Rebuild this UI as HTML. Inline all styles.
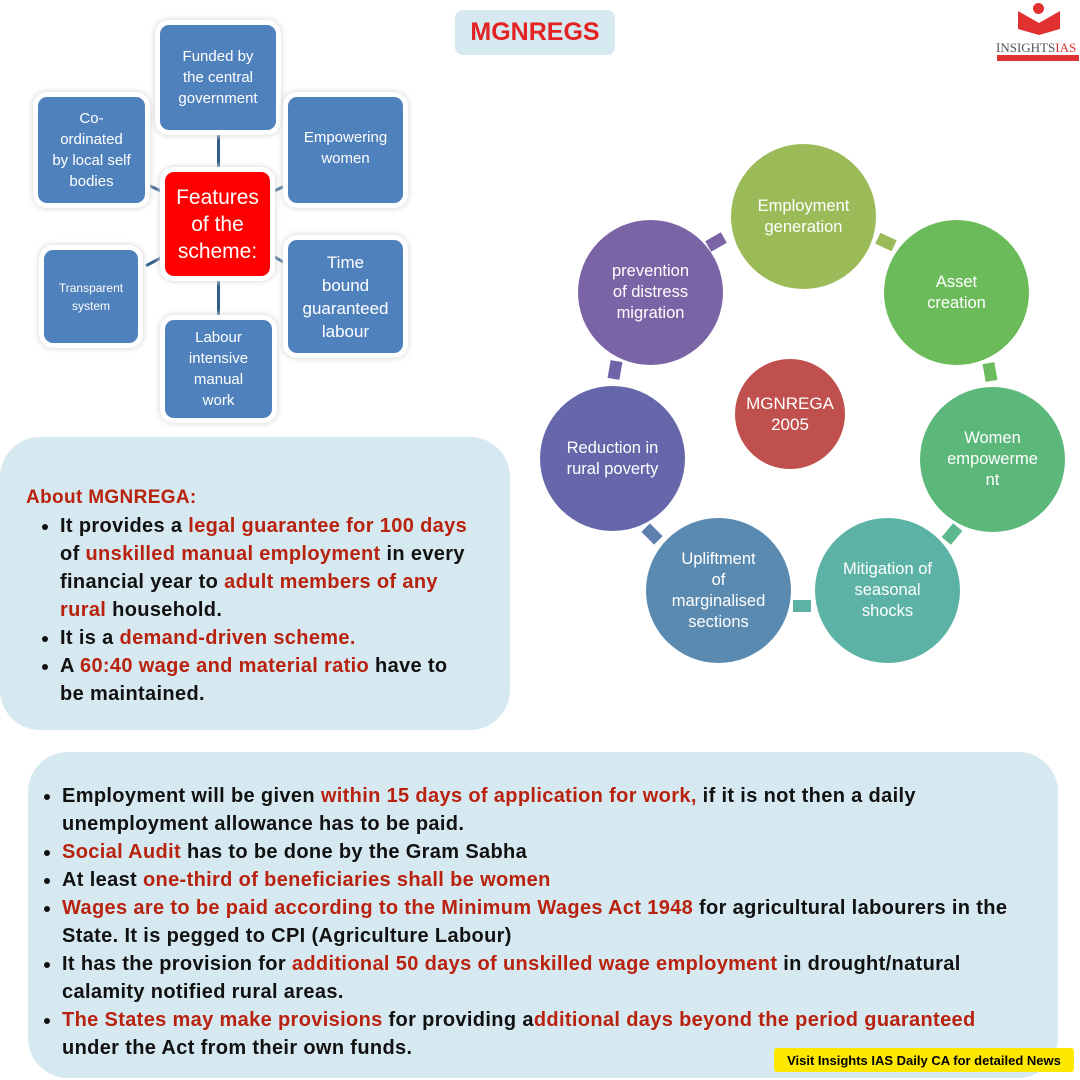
<!DOCTYPE html><html><head><style>
body{margin:0;width:1080px;height:1080px;background:#fff;position:relative;overflow:hidden;font-family:"Liberation Sans",sans-serif}
.b{position:absolute;background:#4f81bd;color:#fff;border-radius:9px;box-shadow:0 0 0 5px #fff,0 0 6px 6px #ddd;display:flex;align-items:center;justify-content:center;text-align:center;font-size:15px;line-height:21px}
.l{position:absolute;background:#2f5c8a}
.c{position:absolute;border-radius:50%;color:#fff;display:flex;align-items:center;justify-content:center;text-align:center;font-size:16.5px;line-height:21px}
.k{position:absolute;width:18px;height:12px}
.p{position:absolute;background:#d6e9f0;border-radius:40px}
.t{position:absolute;font-weight:bold;font-size:20px;letter-spacing:.35px;line-height:28px;color:#111}
.t ul{margin:0;padding-left:34px}
.r{color:#b8220e}
</style></head><body>
<div style="position:absolute;left:455px;top:10px;width:160px;height:45px;background:#d6e9f0;border-radius:8px;color:#e32222;font-weight:bold;font-size:25px;display:flex;align-items:center;justify-content:center">MGNREGS</div>
<div style="position:absolute;left:1018px;top:5px;width:42px;height:30px;background:#e03030;clip-path:polygon(0 20%,50% 60%,100% 20%,100% 80%,50% 100%,0 80%)"></div>
<div style="position:absolute;left:1033px;top:3px;width:11px;height:11px;border-radius:50%;background:#e03030"></div>
<div style="position:absolute;left:996px;top:40px;font-family:'Liberation Serif',serif;font-size:13px;color:#555">INSIGHTS<span style="color:#d33">IAS</span></div>
<div style="position:absolute;left:997px;top:55px;width:82px;height:6px;background:#d33"></div>

<div class="l" style="left:217px;top:135px;width:3px;height:35px"></div>
<div class="l" style="left:217px;top:278px;width:3px;height:40px"></div>
<div class="l" style="left:148px;top:187px;width:15px;height:3px;transform:rotate(25deg)"></div>
<div class="l" style="left:272px;top:187px;width:15px;height:3px;transform:rotate(-25deg)"></div>
<div class="l" style="left:145px;top:260px;width:18px;height:3px;transform:rotate(-28deg)"></div>
<div class="l" style="left:273px;top:258px;width:12px;height:3px;transform:rotate(30deg)"></div>
<div class="b" style="left:160px;top:25px;width:116px;height:105px">Funded by<br>the central<br>government</div>
<div class="b" style="left:38px;top:97px;width:107px;height:106px">Co-<br>ordinated<br>by local self<br>bodies</div>
<div class="b" style="left:288px;top:97px;width:115px;height:106px;align-items:flex-start;padding-top:0"><div style="margin-top:30px">Empowering<br>women</div></div>
<div class="b" style="left:165px;top:172px;width:105px;height:104px;background:#f00;font-size:21px;line-height:27px">Features<br>of the<br>scheme:</div>
<div class="b" style="left:44px;top:250px;width:94px;height:93px;font-size:12px;line-height:18px">Transparent<br>system</div>
<div class="b" style="left:288px;top:240px;width:115px;height:113px;font-size:17px;line-height:23px">Time<br>bound<br>guaranteed<br>labour</div>
<div class="b" style="left:165px;top:320px;width:107px;height:98px">Labour<br>intensive<br>manual<br>work</div>

<div class="k" style="left:877px;top:236px;background:#9bbb59;transform:rotate(25deg)"></div>
<div class="k" style="left:981px;top:366px;background:#6cbb5f;transform:rotate(80deg)"></div>
<div class="k" style="left:943px;top:528px;background:#5cb78e;transform:rotate(-50deg)"></div>
<div class="k" style="left:793px;top:600px;background:#5cb3a5"></div>
<div class="k" style="left:643px;top:528px;background:#5f7fae;transform:rotate(45deg)"></div>
<div class="k" style="left:606px;top:364px;background:#6e65a8;transform:rotate(100deg)"></div>
<div class="k" style="left:707px;top:236px;background:#7b64a5;transform:rotate(-30deg)"></div>
<div class="c" style="left:731px;top:144px;width:145px;height:145px;background:#9bbb59">Employment<br>generation</div>
<div class="c" style="left:884px;top:220px;width:145px;height:145px;background:#6cbb5a">Asset<br>creation</div>
<div class="c" style="left:920px;top:387px;width:145px;height:145px;background:#5cb87a">Women<br>empowerme<br>nt</div>
<div class="c" style="left:815px;top:518px;width:145px;height:145px;background:#5cb3a5">Mitigation of<br>seasonal<br>shocks</div>
<div class="c" style="left:646px;top:518px;width:145px;height:145px;background:#5b8ab0">Upliftment<br>of<br>marginalised<br>sections</div>
<div class="c" style="left:540px;top:386px;width:145px;height:145px;background:#6567aa">Reduction in<br>rural poverty</div>
<div class="c" style="left:578px;top:220px;width:145px;height:145px;background:#7b64a5">prevention<br>of distress<br>migration</div>
<div class="c" style="left:735px;top:359px;width:110px;height:110px;background:#c0504d;font-size:17px">MGNREGA<br>2005</div>

<div class="p" style="left:0;top:437px;width:510px;height:293px"></div>
<div class="t" style="left:26px;top:483px;width:446px"><span class="r" style="font-size:19px">About MGNREGA:</span>
<ul><li>It provides a <span class="r">legal guarantee for 100 days</span> of <span class="r">unskilled manual employment</span> in every financial year to <span class="r">adult members of any rural</span> household.</li>
<li>It is a <span class="r">demand-driven scheme.</span></li>
<li>A <span class="r">60:40 wage and material ratio</span> have to be maintained.</li></ul></div>

<div class="p" style="left:28px;top:752px;width:1030px;height:326px"></div>
<div class="t" style="left:28px;top:782px;width:1000px"><ul>
<li>Employment will be given <span class="r">within 15 days of application for work,</span> if it is not then a daily unemployment allowance has to be paid.</li>
<li><span class="r">Social Audit</span> has to be done by the Gram Sabha</li>
<li>At least <span class="r">one-third of beneficiaries shall be women</span></li>
<li><span class="r">Wages are to be paid according to the Minimum Wages Act 1948</span> for agricultural labourers in the State. It is pegged to CPI (Agriculture Labour)</li>
<li>It has the provision for <span class="r">additional 50 days of unskilled wage employment</span> in drought/natural calamity notified rural areas.</li>
<li><span class="r">The States may make provisions</span> for providing a<span class="r">dditional days beyond the period guaranteed</span> under the Act from their own funds.</li></ul></div>
<div style="position:absolute;left:774px;top:1048px;width:300px;height:24px;background:#ffe800;font-weight:bold;font-size:13px;display:flex;align-items:center;justify-content:center;border-radius:3px">Visit Insights IAS Daily CA for detailed News</div>
</body></html>
